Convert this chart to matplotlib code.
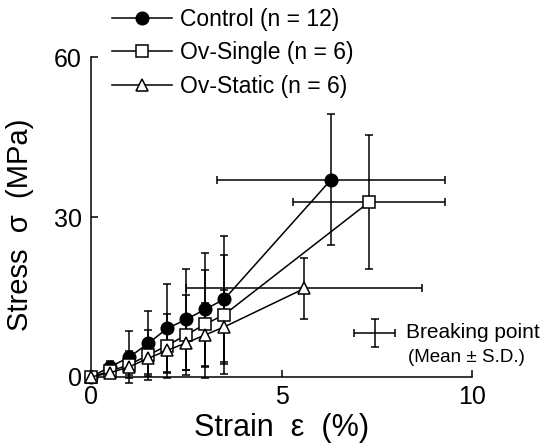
import numpy as np
import matplotlib.pyplot as plt

plt.rcParams['font.family'] = ['Liberation Sans', 'DejaVu Sans']

# strain (%) of the incremental points
strain = [0, 0.5, 1.0, 1.5, 2.0, 2.5, 3.0, 3.5]

ctrl_mean = [0, 1.9, 3.7, 6.3, 9.1, 10.8, 12.7, 14.6]
ctrl_sd = [0, 1.1, 4.9, 6.1, 8.4, 9.4, 10.6, 11.8]
single_mean = [0, 1.1, 2.3, 4.1, 5.9, 7.9, 9.9, 11.7]
single_sd = [0, 0.8, 2.5, 4.7, 6.0, 7.5, 10.1, 11.2]
static_mean = [0, 0.8, 1.9, 3.5, 5.0, 6.4, 7.9, 9.4]
static_sd = [0, 0.6, 1.5, 3.0, 4.0, 5.0, 6.0, 7.0]

# breaking points: strain mean, strain sd, stress mean, stress sd
ctrl_break = (6.3, 3.0, 37.0, 12.3)
single_break = (7.3, 2.0, 32.8, 12.6)
static_break = (5.6, 3.1, 16.6, 5.8)

labels = ['Control (n = 12)', 'Ov-Single (n = 6)', 'Ov-Static (n = 6)']

fig = plt.figure(figsize=(5.44, 4.43), dpi=100)
ax = fig.add_axes([0.1673, 0.149, 0.7004, 0.7223])

series = [
    (ctrl_mean, ctrl_sd, ctrl_break, 'o', 'black', 9),
    (single_mean, single_sd, single_break, 's', 'white', 9),
    (static_mean, static_sd, static_break, '^', 'white', 9),
]

handles = []
for i, (m, sd, br, mk, fc, ms) in enumerate(series):
    xs = strain + [br[0]]
    ys = m + [br[2]]
    ax.errorbar(strain, m, yerr=sd, fmt='none', ecolor='black', elinewidth=1.1,
                capsize=3, capthick=1.1, clip_on=False, zorder=2)
    ax.errorbar([br[0]], [br[2]], xerr=[br[1]], yerr=[br[3]], fmt='none',
                ecolor='black', elinewidth=1.1, capsize=3, capthick=1.1,
                clip_on=False, zorder=2)
    h, = ax.plot(xs, ys, color='black', lw=1.1, marker=mk, ms=ms, mfc=fc,
                 mec='black', mew=1.1, clip_on=False, zorder=3 + i * 0.1,
                 label=labels[i])
    handles.append(h)

ax.set_xlim(0, 10)
ax.set_ylim(0, 60)
ax.set_xticks([0, 5, 10])
ax.set_yticks([0, 30, 60])
ax.spines['top'].set_visible(False)
ax.spines['right'].set_visible(False)
ax.tick_params(direction='in', length=5, width=1.1, labelsize=18)
ax.tick_params(axis='y', pad=6.5)
ax.tick_params(axis='x', pad=6)
for s in ['left', 'bottom']:
    ax.spines[s].set_linewidth(1.1)

ax.set_xlabel('Strain  ε  (%)', fontsize=22, labelpad=3)
ax.set_ylabel('Stress  σ  (MPa)', fontsize=21)
ax.yaxis.set_label_coords(-0.15, 0.475)

fig.legend(handles=handles, loc='upper left', bbox_to_anchor=(0.206, 0.983),
           frameon=False, fontsize=16.5, handlelength=2.6, handletextpad=0.35,
           labelspacing=0.47, borderpad=0, borderaxespad=0)

# breaking point key
ax.errorbar([0.745], [0.1375], xerr=[0.054], yerr=[0.044], fmt='none',
            ecolor='black', elinewidth=1.1, capsize=3, capthick=1.1,
            transform=ax.transAxes, clip_on=False)
ax.text(0.828, 0.1375, 'Breaking point', transform=ax.transAxes,
        fontsize=15, va='center', ha='left')
ax.text(0.832, 0.06, '(Mean ± S.D.)', transform=ax.transAxes,
        fontsize=13.5, va='center', ha='left')

fig.savefig('out.png', dpi=100)
